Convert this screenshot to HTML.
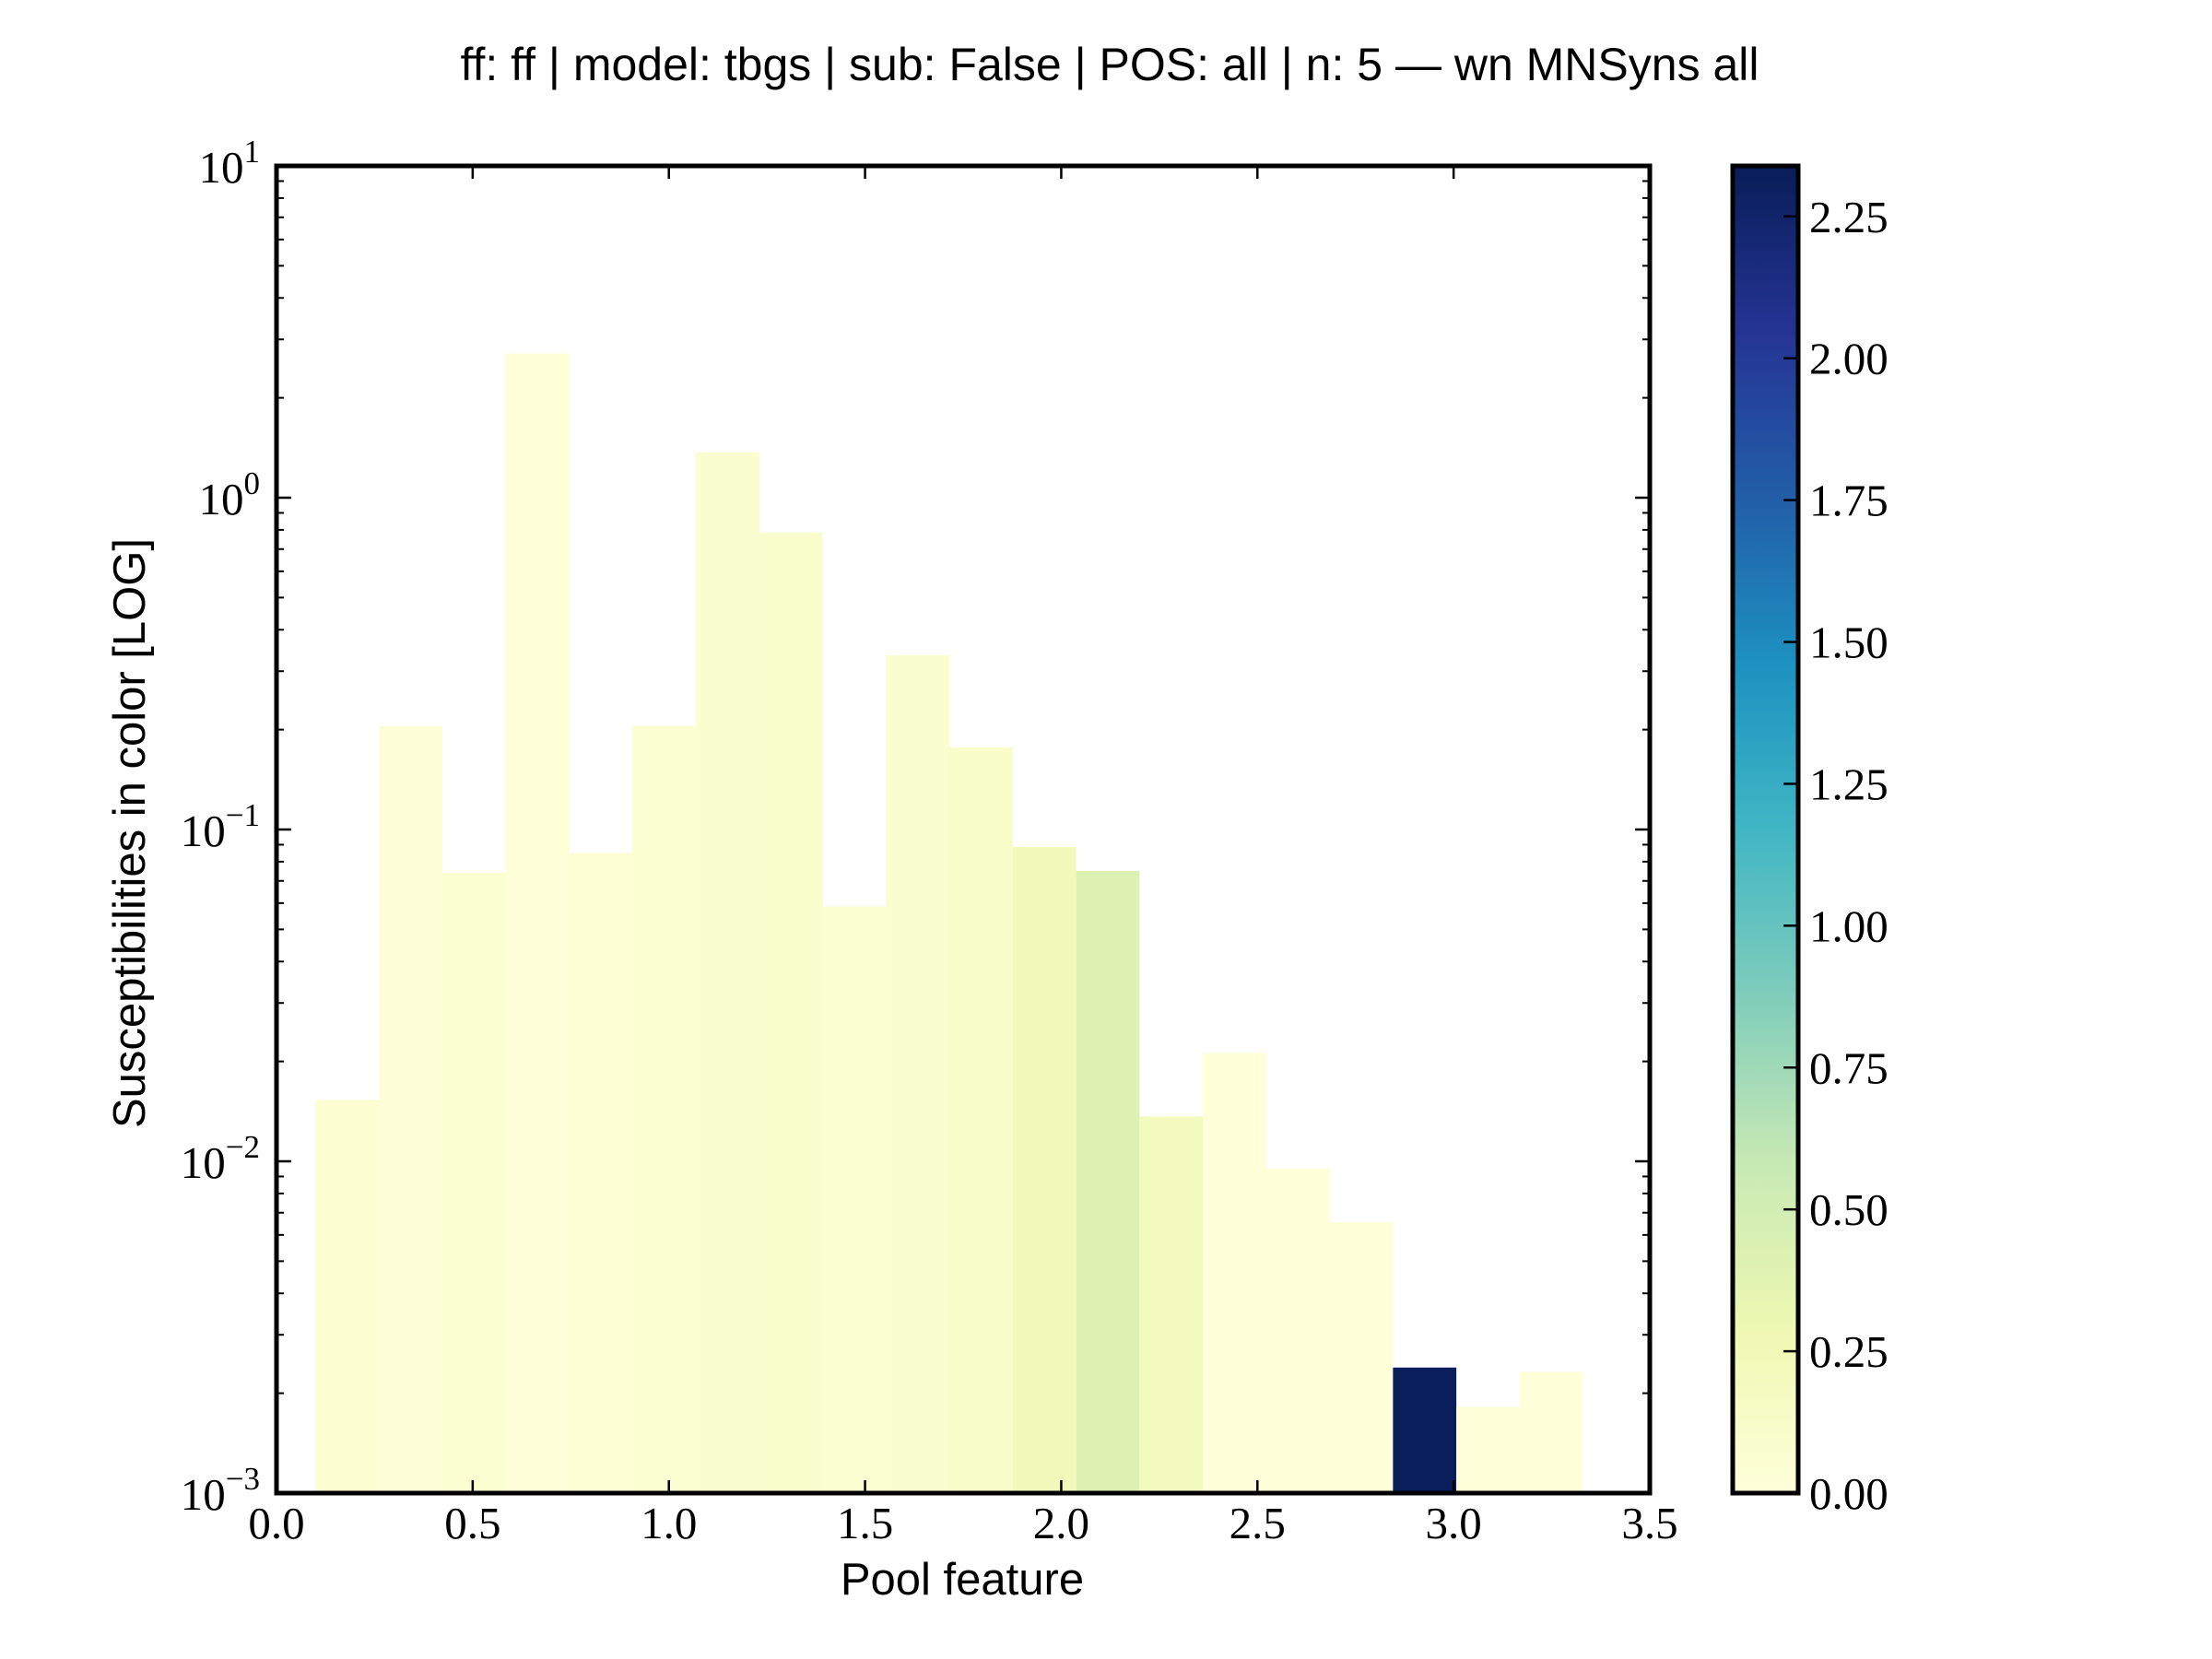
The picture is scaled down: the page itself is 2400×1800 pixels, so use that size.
<!DOCTYPE html>
<html><head><meta charset="utf-8"><style>
html,body{margin:0;padding:0;background:#fff;}
svg{display:block;}
.ser{font-family:"Liberation Serif","DejaVu Serif",serif;}
.san{font-family:"Liberation Sans","DejaVu Sans",sans-serif;}
</style></head><body>
<svg id="chart" width="2400" height="1800" viewBox="0 0 2400 1800" xmlns="http://www.w3.org/2000/svg">
<defs>
<linearGradient id="ylgnbu" x1="0" y1="1" x2="0" y2="0">
<stop offset="0" stop-color="#ffffd9"/><stop offset="0.125" stop-color="#edf8b1"/><stop offset="0.25" stop-color="#c7e9b4"/><stop offset="0.375" stop-color="#7fcdbb"/><stop offset="0.5" stop-color="#41b6c4"/><stop offset="0.625" stop-color="#1d91c0"/><stop offset="0.75" stop-color="#225ea8"/><stop offset="0.875" stop-color="#253494"/><stop offset="1" stop-color="#081d58"/>
</linearGradient>
</defs>
<text class="san" x="1204" y="87" font-size="50" text-anchor="middle">ff: ff | model: tbgs | sub: False | POS: all | n: 5 — wn MNSyns all</text>
<g id="bars"></g>
<g id="axes"></g>
<text class="san" x="1044" y="1730" font-size="49" text-anchor="middle">Pool feature</text>
<text class="san" x="157" y="904" font-size="49" text-anchor="middle" transform="rotate(-90 157 904)">Susceptibilities in color [LOG]</text>
<rect x="1880" y="180" width="71" height="1440" fill="url(#ylgnbu)" stroke="#000" stroke-width="5"/>
<g id="cbar"></g>
</svg>
<script>
const binStart = 0.1;
const binWidth = 0.1615;
const values = [0.0153,0.205,0.074,2.72,0.085,0.205,1.37,0.785,0.0586,0.335,0.177,0.0885,0.075,0.01365,0.0212,0.0095,0.00655,0.00239,0.00182,0.00232];
const colorValues = [0.05,0.03,0.06,0.02,0.04,0.06,0.08,0.1,0.06,0.08,0.12,0.22,0.42,0.2,0.0,0.0,0.0,2.33,0.0,0.0];
const xTicks = ["0.0","0.5","1.0","1.5","2.0","2.5","3.0","3.5"];
const yExps = [-3,-2,-1,0,1];
const cTicks = ["0.00","0.25","0.50","0.75","1.00","1.25","1.50","1.75","2.00","2.25"];

const L=300,R=1790,T=180,B=1620;
const xMin=0,xMax=3.5,yMinE=-3,yMaxE=1;
const cMax=2.339;
const sx=v=>L+(v-xMin)/(xMax-xMin)*(R-L);
const sy=v=>B-(Math.log10(v)-yMinE)/(yMaxE-yMinE)*(B-T);
const cy=v=>B-v/cMax*(B-T);
const NS="http://www.w3.org/2000/svg";
const stops=["#ffffd9","#edf8b1","#c7e9b4","#7fcdbb","#41b6c4","#1d91c0","#225ea8","#253494","#081d58"];
function cmap(v){let t=Math.max(0,Math.min(1,v/cMax))*8;let i=Math.min(7,Math.floor(t));let f=t-i;
 const a=stops[i],b=stops[i+1];const p=(h,k)=>parseInt(h.substr(1+2*k,2),16);
 let c=[0,1,2].map(k=>Math.round(p(a,k)+(p(b,k)-p(a,k))*f));return `rgb(${c.join(',')})`;}
function mk(tag,attrs,parent){const e=document.createElementNS(NS,tag);for(const k in attrs)e.setAttribute(k,attrs[k]);parent.appendChild(e);return e;}
const bars=document.getElementById('bars');
values.forEach((v,i)=>{
 const x0=sx(binStart+i*binWidth),x1=sx(binStart+(i+1)*binWidth),y=sy(v);
 const r=mk('rect',{x:x0,y:y,width:x1-x0,height:B-y,fill:cmap(colorValues[i])},bars);
 
 
});
const ax=document.getElementById('axes');
xTicks.forEach(t=>{const x=sx(parseFloat(t));
 mk('line',{x1:x,x2:x,y1:B,y2:B-14,stroke:'#000','stroke-width':2.5},ax);
 mk('line',{x1:x,x2:x,y1:T,y2:T+14,stroke:'#000','stroke-width':2.5},ax);
 const tx=mk('text',{x:x,y:1669,'font-size':49,'text-anchor':'middle',class:'ser'},ax);tx.textContent=t;
 
 
});
yExps.forEach(e=>{const y=sy(Math.pow(10,e));
 mk('line',{x1:L,x2:L+16,y1:y,y2:y,stroke:'#000','stroke-width':2.5},ax);
 mk('line',{x1:R,x2:R-16,y1:y,y2:y,stroke:'#000','stroke-width':2.5},ax);
 if(e<yMaxE){for(let m=2;m<=9;m++){const yy=sy(m*Math.pow(10,e));
  mk('line',{x1:L,x2:L+8,y1:yy,y2:yy,stroke:'#000','stroke-width':2},ax);
  mk('line',{x1:R,x2:R-8,y1:yy,y2:yy,stroke:'#000','stroke-width':2},ax);}}
 const tx=mk('text',{x:282,y:y+18,'font-size':49,'text-anchor':'end',class:'ser'},ax);
 
 
 const t1=document.createElementNS(NS,'tspan');t1.textContent='10';tx.appendChild(t1);
 const t2=document.createElementNS(NS,'tspan');t2.setAttribute('dy','-22');t2.setAttribute('font-size','35');t2.textContent=(e<0?'\u2212':'')+Math.abs(e);tx.appendChild(t2);
});
mk('rect',{x:L,y:T,width:R-L,height:B-T,fill:'none',stroke:'#000','stroke-width':5},ax);
const cb=document.getElementById('cbar');
cTicks.forEach(t=>{const y=cy(parseFloat(t));
 mk('line',{x1:1951,x2:1935,y1:y,y2:y,stroke:'#000','stroke-width':2.5},cb);
 const tx=mk('text',{x:1963,y:y+17,'font-size':49,class:'ser'},cb);tx.textContent=t;
 
 
});
</script>
</body></html>
